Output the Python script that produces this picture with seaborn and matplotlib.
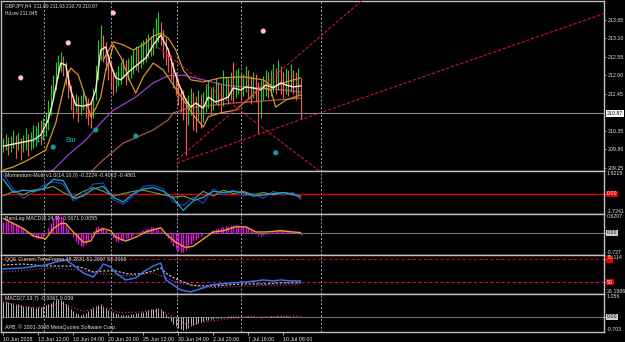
import numpy as np
import matplotlib
matplotlib.use("Agg")
import matplotlib.pyplot as plt
import matplotlib.transforms as mtrans
from matplotlib.patches import Rectangle
import seaborn as sns

# ---------------- data ----------------
symbol_text = "GBPJPY,H4  211.89 211.93 210.70 210.87"
hilow_text = "HiLow 211.945"
current_price = 210.87
open0 = 209.84
close = [209.93, 210.02, 209.87, 209.96, 210.08, 209.90, 209.99, 209.84, 209.96, 210.05,
         209.90, 209.99, 210.11, 210.20, 210.32, 210.23, 210.44, 210.56, 210.97, 211.42,
         211.72, 212.10, 212.31, 212.40, 212.22, 212.01, 211.57, 211.27, 211.09, 211.21,
         211.03, 211.15, 211.27, 211.09, 210.97, 210.88, 211.42, 212.01, 212.61, 212.91,
         212.76, 212.40, 212.16, 211.93, 211.81, 211.87, 211.99, 212.10, 212.22, 212.01,
         212.16, 212.28, 212.40, 212.52, 212.46, 212.61, 212.70, 212.76, 212.88, 212.82,
         213.00, 213.20, 213.35, 213.11, 212.91, 212.61, 212.40, 212.16, 211.93, 211.72,
         211.42, 211.27, 211.15, 210.74, 211.12, 211.27, 211.03, 210.91, 211.18, 210.97,
         211.09, 211.27, 211.42, 211.15, 211.33, 211.51, 211.39, 211.27, 211.45, 211.57,
         211.42, 211.63, 211.51, 211.72, 211.81, 211.57, 211.69, 211.87, 211.63, 211.51,
         211.72, 211.57, 210.97, 211.42, 211.63, 211.75, 211.57, 211.69, 211.87, 211.75,
         211.93, 211.75, 211.63, 211.81, 211.69, 211.87, 211.75, 211.63, 211.89, 210.87]
high = [210.14, 210.26, 210.17, 210.20, 210.38, 210.23, 210.29, 210.14, 210.23, 210.44,
        210.26, 210.32, 210.53, 210.50, 210.62, 210.68, 210.74, 210.91, 211.27, 211.72,
        212.01, 212.40, 212.61, 212.70, 212.58, 212.40, 212.16, 211.72, 211.42, 211.45,
        211.39, 211.42, 211.57, 211.39, 211.33, 211.21, 211.63, 212.31, 213.05, 213.50,
        213.20, 212.99, 212.61, 212.40, 212.16, 212.10, 212.28, 212.40, 212.52, 212.46,
        212.52, 212.61, 212.76, 212.88, 212.82, 213.00, 213.05, 213.11, 213.23, 213.17,
        213.41, 213.71, 213.89, 213.59, 213.35, 213.11, 212.82, 212.61, 212.40, 212.10,
        211.93, 211.63, 211.57, 211.33, 211.42, 211.63, 211.51, 211.39, 211.57, 211.45,
        211.51, 211.72, 211.87, 211.63, 211.69, 211.93, 211.81, 211.75, 212.16, 211.99,
        211.93, 212.10, 212.40, 212.16, 212.22, 212.10, 212.05, 212.28, 212.16, 211.99,
        212.10, 212.05, 211.81, 211.87, 211.99, 212.16, 212.10, 212.16, 212.34, 212.22,
        212.46, 212.28, 212.10, 212.22, 212.16, 212.34, 212.16, 212.10, 212.22, 211.93]
low = [209.72, 209.78, 209.63, 209.72, 209.84, 209.54, 209.78, 209.49, 209.72, 209.78,
       209.60, 209.78, 209.84, 209.90, 210.02, 209.93, 210.08, 210.20, 210.38, 210.82,
       211.27, 211.57, 211.93, 212.10, 211.99, 211.72, 211.33, 210.97, 210.74, 210.91,
       210.62, 210.82, 210.97, 210.74, 210.53, 210.44, 210.74, 211.27, 211.87, 212.46,
       212.40, 212.16, 211.87, 211.63, 211.42, 211.51, 211.69, 211.75, 211.93, 211.72,
       211.87, 211.93, 212.05, 212.16, 212.10, 212.22, 212.34, 212.40, 212.52, 212.58,
       212.61, 212.82, 213.00, 212.91, 212.52, 212.31, 212.10, 211.87, 211.63, 211.42,
       211.12, 210.91, 210.68, 209.64, 210.53, 210.82, 210.38, 210.32, 210.68, 210.44,
       210.62, 210.91, 211.03, 210.82, 210.97, 211.15, 211.09, 210.91, 211.09, 211.27,
       211.15, 211.27, 211.21, 211.33, 211.45, 211.27, 211.39, 211.51, 211.33, 211.15,
       211.33, 211.21, 210.29, 210.74, 211.27, 211.39, 211.33, 211.39, 211.51, 211.45,
       211.57, 211.45, 211.33, 211.45, 211.39, 211.51, 211.45, 211.27, 211.42, 210.70]

white_ma_x = [0, 4, 8, 12, 15, 18, 20, 22, 23, 25, 27, 29, 32, 35, 37, 39, 41, 43, 45, 47,
              50, 52, 55, 57, 60, 63, 66, 68, 70, 73, 75, 77, 80, 82, 85, 87, 90, 92, 95, 97,
              100, 103, 105, 108, 111, 113, 116, 119]
white_ma = [209.90, 209.96, 210.02, 210.08, 210.23, 210.68, 211.27, 212.01, 212.37, 212.31,
            211.57, 211.12, 211.09, 211.15, 211.57, 212.76, 212.85, 212.31, 211.93, 211.87,
            212.10, 212.22, 212.40, 212.52, 212.91, 213.20, 212.76, 212.25, 211.78, 211.27,
            211.06, 211.18, 211.03, 211.36, 211.21, 211.27, 211.36, 211.63, 211.57, 211.66,
            211.63, 211.57, 211.72, 211.63, 211.78, 211.72, 211.66, 211.69]
orange1_x = [0, 4, 10, 17, 21, 25, 27, 30, 32, 35, 37, 39, 41, 43, 44, 47, 51, 53, 56, 60,
             64, 68, 72, 76, 80, 82, 87, 93, 99, 103, 107, 109, 113, 119]
orange1 = [209.19, 209.28, 209.49, 209.78, 210.59, 211.87, 212.22, 212.01, 211.57, 210.77,
           211.03, 211.36, 212.16, 212.61, 212.91, 212.55, 211.78, 211.48, 211.96, 212.37,
           212.16, 211.72, 211.27, 210.83, 210.47, 210.77, 210.89, 210.97, 211.36, 211.66,
           211.57, 211.06, 211.27, 211.42]
orange2_x = [40, 44, 48, 52, 56, 60, 63, 66, 69, 72, 75, 80, 87, 96, 104, 108, 112, 119]
orange2 = [212.46, 213.00, 212.91, 212.76, 212.91, 213.17, 213.26, 213.11, 212.76, 212.16,
           211.87, 211.81, 211.93, 211.96, 211.87, 211.66, 211.78, 211.93]
purple_x = [18, 20, 26, 33, 39, 44, 49, 53, 60, 66, 72, 80, 88, 100, 112, 119]
purple = [209.13, 209.19, 209.64, 210.08, 210.59, 210.97, 211.18, 211.36, 211.78, 211.99,
          212.01, 211.87, 211.72, 211.63, 211.57, 211.51]
brown_x = [35, 40, 48, 60, 66, 68, 74, 80, 92, 104, 119]
brown = [209.13, 209.49, 209.99, 210.38, 210.68, 210.89, 211.03, 211.09, 211.18, 211.24, 211.33]
pink_dot_x = [7, 26, 44, 104]
pink_dot = [211.93, 212.97, 213.86, 213.32]
teal_dot_x = [20, 37, 53, 109]
teal_dot = [209.87, 210.38, 210.20, 209.70]
trend_steep = [(69.5, 209.49), (139.1, 213.95)]
trend_shallow = [(69.5, 209.40), (139.1, 211.21)]
trend_down = [(61.9, 212.83), (124.3, 209.28)]
week_sep = [16.3, 43.1, 69.5, 95.1, 127.1]
price_ticks = [213.65, 213.10, 212.55, 212.00, 211.45, 210.35, 209.80, 209.25]

time_idx = [0, 14, 28, 42, 56, 70, 84, 98, 112]
time_labels = ["10 Jun 2008", "13 Jun 12:00", "18 Jun 04:00", "20 Jun 20:00", "25 Jun 12:00",
               "30 Jun 04:00", "2 Jul 20:00", "7 Jul 16:00", "10 Jul 08:00"]

mom_title = "Momentum-Multi v1.0(14,10,0) -0.2224 -0.4063 -0.4861"
mom_range = (-1.7241, 1.9215)
mom_x = [0, 4, 8, 12, 16, 20, 24, 28, 32, 36, 40, 44, 48, 52, 56, 60, 64, 68, 72, 76, 80,
         84, 88, 92, 96, 100, 104, 108, 112, 116, 119]
mom_cyan = [1.21, 0.10, 0.30, 0.20, 0.40, 1.21, 1.11, -0.40, -0.20, 0.40, 0.61, -0.30, -0.71,
            0.00, 0.40, 0.51, 0.20, -0.40, -1.42, -0.61, -0.30, 0.20, 0.10, 0.20, 0.10, -0.20,
            -0.10, 0.00, 0.10, -0.10, -0.22]
mom_blue = [1.62, 0.40, -0.40, 0.10, 0.71, 1.01, 0.81, -0.61, -0.10, 0.81, 0.91, -0.51, -0.91,
            -0.20, 0.61, 0.71, 0.40, -0.71, -1.01, -0.30, -0.81, 0.40, -0.10, 0.30, -0.20, 0.00,
            -0.40, 0.20, -0.10, 0.10, -0.49]
mom_green = [-0.20, 0.20, -0.10, 0.30, 0.40, 0.61, 0.10, -0.30, 0.20, 0.51, 0.20, -0.20, 0.00,
             0.20, 0.30, 0.10, -0.10, -0.30, -0.20, -0.51, 0.20, -0.20, 0.30, 0.00, 0.20, -0.10,
             0.10, -0.10, 0.10, 0.00, -0.41]

bl_title = "BarsLag MACD(8,24,9) -0.0671 0.0055"
bl_range = (-0.727, 0.6207)
bl_hist = [0.37, 0.38, 0.38, 0.36, 0.33, 0.30, 0.25, 0.20,
           0.12, 0.05, -0.02, -0.08, -0.14, -0.18, -0.20, -0.18,
           -0.12, 0.00, 0.15, 0.32,
           0.48, 0.58, 0.60, 0.55, 0.45, 0.32, 0.15,
           0.00, -0.15, -0.28, -0.38, -0.44, -0.44, -0.38, -0.28, -0.12,
           0.05, 0.18, 0.22, 0.20, 0.15, 0.08, 0.00, -0.08,
           -0.18, -0.26, -0.30, -0.28, -0.24, -0.20, -0.16, -0.12, -0.08,
           -0.03, 0.02, 0.06, 0.10, 0.14, 0.17, 0.18, 0.18, 0.16, 0.12, 0.06,
           0.00, -0.08, -0.18, -0.30, -0.42, -0.52, -0.60, -0.64, -0.62, -0.55, -0.45,
           -0.36, -0.28, -0.22, -0.16, -0.10, -0.05, -0.01, 0.02, 0.05,
           0.08, 0.12, 0.15, 0.18, 0.20, 0.22, 0.24, 0.25, 0.26, 0.26, 0.25, 0.24, 0.22, 0.20,
           0.16, 0.12, 0.06,
           0.00, -0.06, -0.10, -0.08, -0.05, -0.02, 0.02,
           0.06, 0.10, 0.12, 0.12, 0.10, 0.10, 0.08, 0.06, 0.04, 0.02, -0.02, -0.07]
bl_sig_x = [0, 8, 12, 17, 20, 23, 25, 28, 32, 35, 37, 40, 43, 45, 49, 53, 57, 63, 65, 69,
            73, 76, 80, 84, 88, 93, 97, 101, 105, 111, 116, 119]
bl_sig = [0.48, 0.14, -0.10, -0.20, 0.14, 0.31, 0.31, 0.03, -0.31, -0.27, 0.03, 0.14, 0.07,
          -0.14, -0.27, -0.14, 0.03, 0.17, -0.03, -0.31, -0.48, -0.44, -0.20, 0.03, 0.07, 0.20,
          0.20, 0.03, 0.03, 0.07, 0.03, 0.01]

qqe_title = "QQE Current TimeFrame 48.2831 51.2097 52.3066"
qqe_range = (28.1986, 75.114)
qqe_levels = [70, 42.6]
qqe_level_labels = ["70", "50"]
qqe_fast_x = [0, 8, 17, 21, 25, 28, 32, 36, 39, 40, 43, 45, 49, 53, 56, 60, 63, 65, 68, 71,
              75, 80, 83, 87, 91, 97, 101, 104, 108, 111, 115, 119]
qqe_fast = [58.3, 59.5, 63.1, 66.7, 69.1, 63.1, 53.5, 48.7, 59.5, 64.3, 60.7, 53.5, 45.1, 47.5,
            54.7, 61.9, 65.5, 45.1, 39.1, 33.1, 30.7, 35.5, 39.1, 40.3, 41.5, 42.7, 43.9, 45.1,
            43.9, 45.1, 43.9, 43.9]
qqe_slow_x = [0, 8, 17, 22, 28, 32, 36, 40, 45, 50, 55, 60, 63, 66, 70, 75, 80, 85, 90, 95,
              100, 105, 110, 115, 119]
qqe_slow = [63.1, 64.3, 61.9, 61.9, 61.9, 59.5, 54.7, 55.9, 55.9, 52.3, 52.3, 55.9, 59.5, 51.1,
            45.1, 39.1, 37.9, 37.9, 39.1, 40.3, 40.3, 40.3, 41.5, 41.5, 41.5]
qqe_third_x = [0, 10, 20, 30, 40, 50, 60, 70, 80, 90, 100, 110, 119]
qqe_third = [54.7, 57.1, 59.5, 57.1, 52.3, 49.9, 53.5, 41.5, 35.5, 36.7, 37.9, 39.1, 39.1]

macd_title = "MACD(7,19,7) -0.0061 0.039"
macd_range = (-0.703, 1.056)
macd_hist = [0.70, 0.72, 0.68, 0.65, 0.62, 0.60, 0.58, 0.55,
             0.52, 0.50, 0.48, 0.45, 0.44, 0.42, 0.44, 0.46,
             0.50, 0.55, 0.60, 0.66, 0.72, 0.78, 0.82, 0.80,
             0.72, 0.60, 0.48, 0.36, 0.26, 0.18, 0.12, 0.10,
             0.12, 0.18, 0.28, 0.38, 0.46, 0.52, 0.56, 0.58,
             0.52, 0.42, 0.32, 0.24,
             0.20, 0.16, 0.12, 0.10, 0.08, 0.08, 0.10, 0.12, 0.14, 0.16, 0.18, 0.20,
             0.22, 0.26, 0.30, 0.34, 0.38, 0.40, 0.42, 0.38,
             0.28, 0.12, -0.05, -0.20, -0.32, -0.42, -0.50, -0.56, -0.60, -0.56, -0.50, -0.44,
             -0.38, -0.33, -0.28, -0.24, -0.20, -0.16, -0.13, -0.10, -0.08, -0.06, -0.05, -0.04,
             -0.02, 0.00, 0.02, 0.03, 0.04, 0.05, 0.05, 0.06,
             0.06, 0.06, 0.05, 0.04, 0.02, 0.00, -0.02, -0.04,
             -0.03, -0.02, 0.00, 0.02, 0.04, 0.05, 0.05, 0.04,
             0.03, 0.02, 0.02, 0.01, 0.00, -0.01, -0.01, -0.01]
macd_sig_x = [0, 8, 16, 24, 32, 40, 46, 53, 60, 66, 70, 74, 80, 88, 96, 104, 112, 119]
macd_sig = [0.70, 0.44, 0.44, 0.62, 0.25, 0.44, 0.21, 0.21, 0.30, 0.16, -0.16, -0.39, -0.25,
            -0.12, -0.02, 0.00, 0.02, 0.04]
copyright_text = "APB, \u00a9 2001-2008 MetaQuotes Software Corp."

# ---------------- style ----------------
sns.set_theme(style="dark")
plt.rcParams['font.family'] = ['Liberation Sans', 'DejaVu Sans']
plt.rcParams['axes.grid'] = False

W, H = 625, 342
FS = 3.8
FS_SYM = 3.5
TXT = '#e4e4e4'
BORDER = '#c0c0c0'
XMIN, XMAX = -0.9, 240.3

fig = plt.figure(figsize=(W / 100, H / 100), dpi=100)
fig.patch.set_facecolor('black')


def panel(top, bot):
    ax = fig.add_axes([1 / W, 1 - bot / H, 603 / W, (bot - top) / H])
    ax.set_facecolor('black')
    ax.set_xlim(XMIN, XMAX)
    for s in ax.spines.values():
        s.set_color(BORDER)
        s.set_linewidth(1.0)
    ax.set_xticks([])
    ax.yaxis.tick_right()
    ax.tick_params(axis='y', length=1.6, width=0.6, color=BORDER, labelsize=FS,
                   labelcolor=TXT, pad=0.8)
    ax.grid(False)
    for s in week_sep:
        ax.axvline(s, color='#9aa4b0', lw=0.7, ls=(0, (2, 2)), zorder=0.5)
    ax.set_xlabel('')
    ax.set_ylabel('')
    return ax


def side_text(ax, y, txt, va='center', box=None, tcolor=TXT):
    tr = mtrans.blended_transform_factory(ax.transAxes, ax.transData)
    kw = {}
    if box is not None:
        kw['bbox'] = dict(boxstyle='square,pad=0.1', fc=box, ec='none')
    ax.text(1.005, y, txt, transform=tr, va=va, ha='left', fontsize=FS, color=tcolor,
            clip_on=False, zorder=6, **kw)


def title(ax, txt):
    ax.text(0.006, 0.95, txt, transform=ax.transAxes, va='top', ha='left', fontsize=FS,
            color=TXT)


def line(ax, x, y, **kw):
    sns.lineplot(x=np.asarray(x, float), y=np.asarray(y, float), ax=ax, estimator=None,
                 sort=False, legend=False, **kw)


def ray(ax, pts, **kw):
    (x1, y1), (x2, y2) = pts
    slope = (y2 - y1) / (x2 - x1)
    ax.plot([x1, XMAX], [y1, y1 + slope * (XMAX - x1)], **kw)


idx = np.arange(len(close))
c = np.asarray(close)
o = np.r_[open0, c[:-1]]
hi = np.asarray(high)
lo = np.asarray(low)

# ---------------- main panel ----------------
ax0 = panel(1, 171)
ax0.set_ylim(209.16, 214.215)
ax0.axhline(current_price, color='#8c8c8c', lw=0.8, zorder=1)
line(ax0, brown_x, brown, color='#b0583a', lw=0.9)
line(ax0, purple_x, purple, color='#9a3fd0', lw=0.9)
up = c >= o
ax0.vlines(idx[up], lo[up], hi[up], color='#2cc42c', lw=0.85, zorder=2)
ax0.vlines(idx[~up], lo[~up], hi[~up], color='#f05a5a', lw=0.85, zorder=2)
line(ax0, orange1_x, orange1, color='#d99a1e', lw=0.9)
line(ax0, orange2_x, orange2, color='#d0962a', lw=0.9)
line(ax0, white_ma_x, white_ma, color='#f8e8cc', lw=1.0)
tl = dict(color='#c8143c', lw=0.8, ls=(0, (3, 1.5)), zorder=3)
ray(ax0, trend_steep, **tl)
ray(ax0, trend_shallow, **tl)
ray(ax0, trend_down, **tl)
sns.scatterplot(x=pink_dot_x, y=pink_dot, ax=ax0, color='#ffc0c8', s=14, edgecolor='none',
                zorder=4, legend=False)
sns.scatterplot(x=teal_dot_x, y=teal_dot, ax=ax0, color='#10989a', s=14, edgecolor='none',
                zorder=4, legend=False)
ax0.text(11, 210.08, "1:17", color='#20a8b0', fontsize=5.0, va='center', zorder=5)
ax0.text(25, 210.08, "Bar", color='#20a8b0', fontsize=5.0, va='center', zorder=5)
ax0.set_ylim(209.16, 214.215)
ax0.set_xlim(XMIN, XMAX)
ax0.set_yticks(price_ticks)
ax0.set_yticklabels([f"{v:.2f}" for v in price_ticks])
side_text(ax0, current_price, f"{current_price:.2f}", box='#ffffff', tcolor='black')
ax0.text(0.006, 0.985, symbol_text, transform=ax0.transAxes, va='top', ha='left',
         fontsize=FS_SYM, color=TXT)
ax0.text(0.006, 0.94, hilow_text, transform=ax0.transAxes, va='top', ha='left',
         fontsize=FS_SYM, color=TXT)
ax0.set_xlabel(''); ax0.set_ylabel('')

# ---------------- momentum ----------------
ax1 = panel(171, 214)
ax1.axhline(0, color='#e00000', lw=1.0)
line(ax1, mom_x, mom_green, color='#6aa040', lw=0.8)
line(ax1, mom_x, mom_blue, color='#2448b0', lw=0.8)
line(ax1, mom_x, mom_cyan, color='#1ea6d8', lw=0.9)
ax1.set_ylim(*mom_range)
ax1.set_xlim(XMIN, XMAX)
ax1.set_yticks([0])
ax1.set_yticklabels([''])
side_text(ax1, mom_range[1], f"{mom_range[1]:.4f}", va='top')
side_text(ax1, 0, "0.00", box='#e00000', tcolor='white')
side_text(ax1, mom_range[0], f"{mom_range[0]:.4f}", va='bottom')
title(ax1, mom_title)
ax1.set_xlabel(''); ax1.set_ylabel('')

# ---------------- BarsLag MACD ----------------
ax2 = panel(214, 255)
ax2.axhline(0, color='#707070', lw=0.8)
ax2.vlines(idx, 0, bl_hist, color='#e010e0', lw=1.0)
line(ax2, bl_sig_x, bl_sig, color='#f0a020', lw=1.0)
ax2.set_ylim(*bl_range)
ax2.set_xlim(XMIN, XMAX)
ax2.set_yticks([0])
ax2.set_yticklabels([''])
side_text(ax2, bl_range[1], f"{bl_range[1]:.4f}", va='top')
side_text(ax2, 0, "0.00", box='#d0d0d0', tcolor='black')
side_text(ax2, bl_range[0], f"{bl_range[0]:.3f}", va='bottom')
title(ax2, bl_title)
ax2.set_xlabel(''); ax2.set_ylabel('')

# ---------------- QQE ----------------
ax3 = panel(255, 294)
ax3.axhline(qqe_levels[0], color='#d00000', lw=0.8, ls=(0, (3, 2)))
ax3.axhline(qqe_levels[1], color='#c0106a', lw=0.8, ls=(0, (3, 2)))
line(ax3, qqe_third_x, qqe_third, color='#b04890', lw=0.8, ls=':')
line(ax3, qqe_slow_x, qqe_slow, color='#d0d0d0', lw=0.8, ls=(0, (2, 1.5)))
line(ax3, qqe_fast_x, qqe_fast, color='#3c70e8', lw=1.1)
ax3.set_ylim(*qqe_range)
ax3.set_xlim(XMIN, XMAX)
ax3.set_yticks(qqe_levels)
ax3.set_yticklabels(['', ''])
tr3 = mtrans.blended_transform_factory(ax3.transAxes, ax3.transData)
# red level marker for the 70 line (its number is hidden under the top scale value)
ax3.add_patch(Rectangle((1.004, qqe_levels[0] - 4.0), 0.0115, 8.0, transform=tr3,
                        fc='#e00000', ec='none', clip_on=False, zorder=5))
side_text(ax3, qqe_range[1], f"{qqe_range[1]:.3f}", va='top')
side_text(ax3, qqe_levels[1], qqe_level_labels[1], box='#e00000', tcolor='white')
side_text(ax3, qqe_range[0], f"{qqe_range[0]:.4f}", va='bottom')
title(ax3, qqe_title)
ax3.set_xlabel(''); ax3.set_ylabel('')

# ---------------- MACD ----------------
ax4 = panel(294, 332)
ax4.axhline(0, color='#707070', lw=0.8)
ax4.vlines(idx, 0, macd_hist, color='#b8b8b8', lw=0.7)
line(ax4, macd_sig_x, macd_sig, color='#e0205a', lw=0.9, ls=':')
ax4.set_ylim(*macd_range)
ax4.set_xlim(XMIN, XMAX)
ax4.set_yticks([0])
ax4.set_yticklabels([''])
side_text(ax4, macd_range[1], f"{macd_range[1]:.3f}", va='top')
side_text(ax4, 0, "0.00", box='#d0d0d0', tcolor='black')
side_text(ax4, macd_range[0], f"{macd_range[0]:.3f}", va='bottom')
title(ax4, macd_title)
ax4.text(0.006, 0.05, copyright_text, transform=ax4.transAxes, va='bottom', ha='left',
         fontsize=FS, color=TXT)
ax4.set_xticks(time_idx)
ax4.set_xticklabels(time_labels)
ax4.tick_params(axis='x', length=2.5, width=0.6, color=BORDER, labelsize=FS, labelcolor=TXT,
                pad=1.2, bottom=True)
for t in ax4.get_xticklabels():
    t.set_horizontalalignment('left')
ax4.set_xlabel(''); ax4.set_ylabel('')

fig.savefig('out.png', dpi=100, facecolor='black')
